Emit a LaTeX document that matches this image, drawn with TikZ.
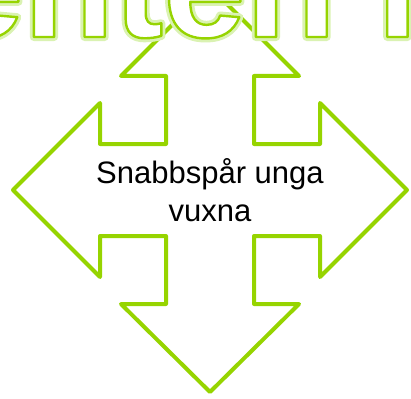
\documentclass[tikz,border=0pt]{standalone}
\usepackage{fontspec}
\setmainfont{Liberation Sans}
\usepackage{xcolor}
\usetikzlibrary{positioning}
\definecolor{LimeLine}{RGB}{150,212,0}
\definecolor{LimeGlow}{RGB}{218,242,178}
% outlined text: fill white, stroke green (or a wide pale stroke for the glow)
\newcommand\outlinetext[1]{\special{pdf:literal direct 1 j 0.588 0.831 0 RG 2 Tr 2.4 w}#1\special{pdf:literal direct 0 Tr}}
\newcommand\glowtext[1]{\special{pdf:literal direct 1 j 0.855 0.949 0.698 RG 1 Tr 8 w}#1\special{pdf:literal direct 0 Tr}}
\tikzset{
  quadarrow/.style={draw=LimeLine, line width=4pt, line join=round, fill=white},
  midlabel/.style={font=\fontsize{31}{38}\selectfont, align=center, text=black, inner sep=0pt},
  bigword/.style={font=\fontsize{148}{150}\selectfont\bfseries, inner sep=0pt, anchor=base west, text=white},
}

\begin{document}
\begin{tikzpicture}[x=1pt, y=-1pt]
    \useasboundingbox (0,0) rectangle (411,398);
    \clip (0,0) rectangle (411,398);
    % four-way arrow
    \draw[quadarrow] (210,-13) -- (299,76) -- (254,76) -- (254,144) -- (320,144) -- (320,103)
      -- (407,190) -- (320,277) -- (320,236) -- (254,236) -- (254,304) -- (299,304)
      -- (210,392) -- (121,304) -- (166,304) -- (166,236) -- (100,236) -- (100,277)
      -- (13,190) -- (100,103) -- (100,144) -- (166,144) -- (166,76) -- (121,76) -- cycle;
    % heading, cut off by the page
    \node[bigword] (glow) at (-59,37) {\glowtext{enten i}};
    \node[bigword] (title) at (-59,37) {\outlinetext{enten i}};
    \node[midlabel] (lbl) at (210,190) {Snabbspår unga\\vuxna};
\end{tikzpicture}
\end{document}
